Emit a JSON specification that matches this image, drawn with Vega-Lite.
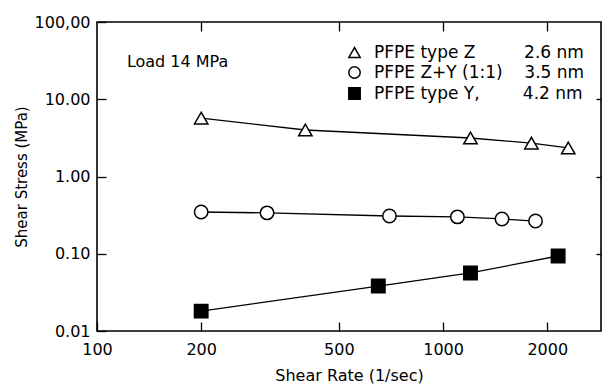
{
  "$schema": "https://vega.github.io/schema/vega-lite/v6.json",
  "width": 504,
  "height": 309,
  "autosize": {"type": "none"},
  "padding": {"left": 97, "top": 22, "right": 1, "bottom": 54},
  "background": "white",
  "config": {
    "view": {"stroke": "black", "strokeWidth": 1.6},
    "font": "DejaVu Sans",
    "axis": {
      "labelFont": "DejaVu Sans",
      "titleFont": "DejaVu Sans",
      "labelColor": "black",
      "titleColor": "black",
      "tickColor": "black",
      "tickWidth": 1.3,
      "grid": false,
      "domain": false,
      "titleFontWeight": "normal",
      "labelFontSize": 16,
      "titleFontSize": 16,
      "labelFlush": false,
      "labelOverlap": false
    },
    "legend": {
      "orient": "none",
      "legendX": 249,
      "legendY": 22,
      "padding": 0,
      "labelFont": "DejaVu Sans",
      "labelFontSize": 17,
      "labelColor": "black",
      "symbolSize": 130,
      "symbolStrokeWidth": 1.5,
      "rowPadding": 2,
      "labelOffset": 11,
      "labelLimit": 400
    }
  },
  "data": {
    "values": [
      {"series": "Z", "rate": 200, "stress": 5.7},
      {"series": "Z", "rate": 400, "stress": 4.0},
      {"series": "Z", "rate": 1200, "stress": 3.15},
      {"series": "Z", "rate": 1800, "stress": 2.7},
      {"series": "Z", "rate": 2300, "stress": 2.34},
      {"series": "ZY", "rate": 200, "stress": 0.347},
      {"series": "ZY", "rate": 310, "stress": 0.338},
      {"series": "ZY", "rate": 700, "stress": 0.308},
      {"series": "ZY", "rate": 1100, "stress": 0.30},
      {"series": "ZY", "rate": 1480, "stress": 0.282},
      {"series": "ZY", "rate": 1850, "stress": 0.265},
      {"series": "Y", "rate": 200, "stress": 0.0181},
      {"series": "Y", "rate": 650, "stress": 0.0382},
      {"series": "Y", "rate": 1200, "stress": 0.0564},
      {"series": "Y", "rate": 2150, "stress": 0.0935}
    ]
  },
  "resolve": {"axis": {"x": "independent", "y": "independent"}},
  "layer": [
    {
      "mark": {"type": "line", "color": "black", "strokeWidth": 1.3},
      "encoding": {
        "x": {
          "field": "rate", "type": "quantitative",
          "scale": {"type": "log", "domain": [100, 2860], "nice": false},
          "axis": {"values": [100, 200, 500, 1000, 2000], "format": "d", "tickSize": -9, "labelPadding": 19, "title": "Shear Rate (1/sec)", "titlePadding": 10}
        },
        "y": {
          "field": "stress", "type": "quantitative",
          "scale": {"type": "log", "domain": [0.01, 100], "nice": false},
          "axis": {"values": [0.01, 0.1, 1, 10, 100], "tickSize": -9, "labelPadding": 16, "labelExpr": "datum.value >= 100 ? '100,00' : format(datum.value, '.2f')", "title": "Shear Stress (MPa)", "titleFontSize": 15, "titlePadding": 5}
        },
        "detail": {"field": "series"}
      }
    },
    {
      "mark": {"type": "point", "filled": true, "strokeWidth": 1.5, "size": 180, "opacity": 1},
      "encoding": {
        "x": {"field": "rate", "type": "quantitative", "axis": null},
        "y": {"field": "stress", "type": "quantitative", "axis": null},
        "shape": {
          "field": "series", "type": "nominal",
          "scale": {"domain": ["Z", "ZY", "Y"], "range": ["triangle-up", "circle", "square"]},
          "legend": {"title": null, "labelExpr": "datum.label == 'Z' ? 'PFPE type Z\u00a0\u00a0\u00a0\u00a0\u00a0\u00a0\u00a0\u00a0\u00a02.6 nm' : datum.label == 'ZY' ? 'PFPE Z+Y (1:1)\u00a0\u00a0\u00a0\u00a03.5 nm' : 'PFPE type Y,\u00a0\u00a0\u00a0\u00a0\u00a0\u00a0\u00a0\u00a04.2 nm'"}
        },
        "fill": {
          "field": "series", "type": "nominal",
          "scale": {"domain": ["Z", "ZY", "Y"], "range": ["white", "white", "black"]},
          "legend": {"title": null, "labelExpr": "datum.label == 'Z' ? 'PFPE type Z\u00a0\u00a0\u00a0\u00a0\u00a0\u00a0\u00a0\u00a0\u00a02.6 nm' : datum.label == 'ZY' ? 'PFPE Z+Y (1:1)\u00a0\u00a0\u00a0\u00a03.5 nm' : 'PFPE type Y,\u00a0\u00a0\u00a0\u00a0\u00a0\u00a0\u00a0\u00a04.2 nm'"}
        },
        "stroke": {
          "field": "series", "type": "nominal",
          "scale": {"domain": ["Z", "ZY", "Y"], "range": ["black", "black", "black"]},
          "legend": {"title": null, "labelExpr": "datum.label == 'Z' ? 'PFPE type Z\u00a0\u00a0\u00a0\u00a0\u00a0\u00a0\u00a0\u00a0\u00a02.6 nm' : datum.label == 'ZY' ? 'PFPE Z+Y (1:1)\u00a0\u00a0\u00a0\u00a03.5 nm' : 'PFPE type Y,\u00a0\u00a0\u00a0\u00a0\u00a0\u00a0\u00a0\u00a04.2 nm'"}
        }
      }
    },
    {
      "data": {"values": [{"note": "Load 14 MPa"}]},
      "mark": {"type": "text", "align": "left", "baseline": "middle", "fontSize": 16, "font": "DejaVu Sans", "color": "black"},
      "encoding": {
        "x": {"datum": 122, "type": "quantitative", "axis": null},
        "y": {"datum": 30.3, "type": "quantitative", "axis": null},
        "text": {"field": "note"}
      }
    },
    {
      "mark": {"type": "point", "opacity": 0},
      "encoding": {
        "x": {"field": "rate", "type": "quantitative", "axis": {"orient": "top", "values": [200, 500, 1000, 2000], "labels": false, "tickSize": -9, "title": null}},
        "y": {"field": "stress", "type": "quantitative", "axis": {"orient": "right", "values": [0.1, 1, 10], "labels": false, "tickSize": -5, "title": null}}
      }
    }
  ]
}
